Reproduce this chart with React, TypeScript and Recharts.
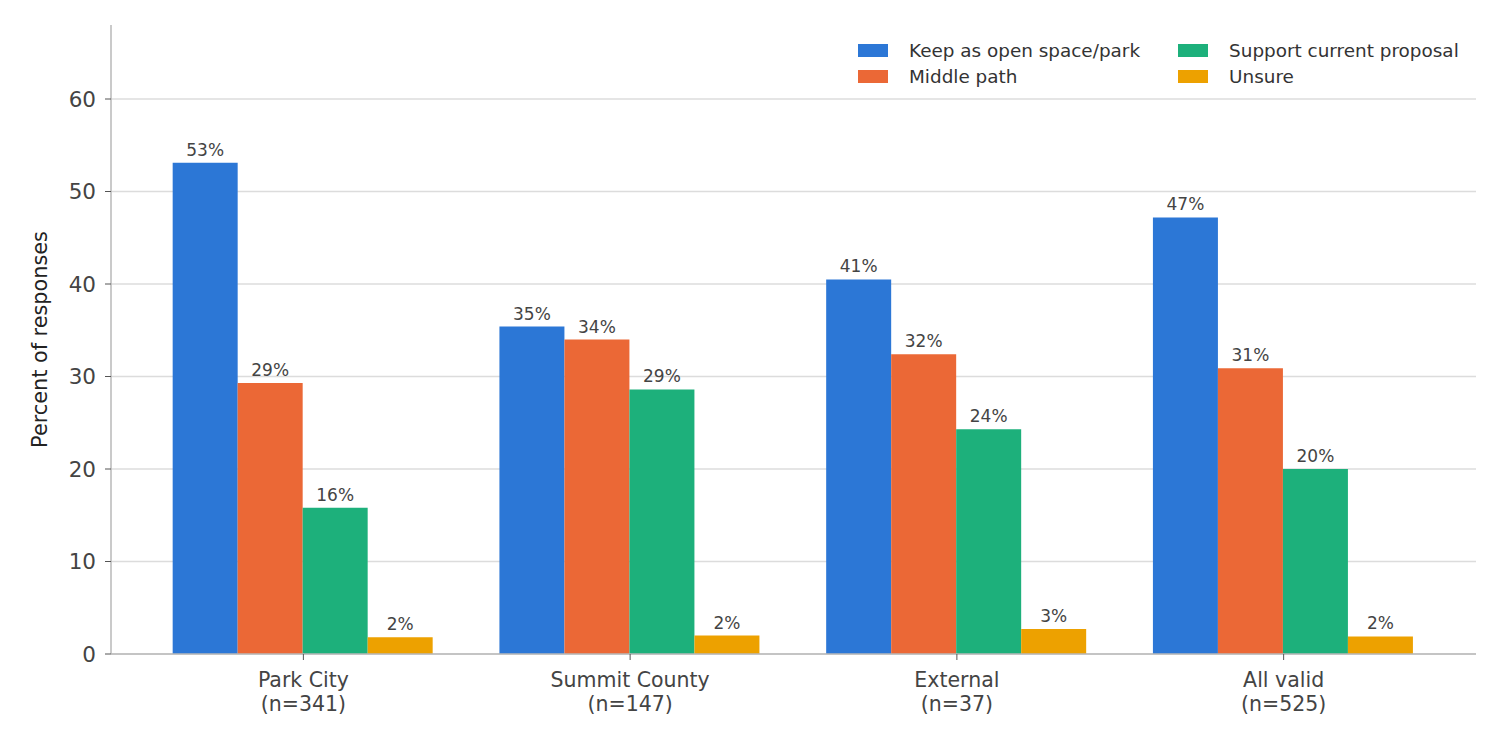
import { Bar, BarChart, CartesianGrid, LabelList, XAxis, YAxis } from "recharts";

const groups = ["Park City", "Summit County", "External", "All valid"];
const counts = [341, 147, 37, 525];
const keepOpen = [53.1, 35.4, 40.5, 47.2];
const middlePath = [29.3, 34.0, 32.4, 30.9];
const supportProposal = [15.8, 28.6, 24.3, 20.0];
const unsure = [1.8, 2.0, 2.7, 1.9];
const yTicks = [0, 10, 20, 30, 40, 50, 60];
const Y_MAX = 68;

const series = [
  { key: "keep", name: "Keep as open space/park", color: "#2C77D6" },
  { key: "middle", name: "Middle path", color: "#EB6836" },
  { key: "support", name: "Support current proposal", color: "#1DB07B" },
  { key: "unsure", name: "Unsure", color: "#EDA100" },
];

const data = groups.map((g, i) => ({
  name: g,
  n: counts[i],
  keep: keepOpen[i],
  middle: middlePath[i],
  support: supportProposal[i],
  unsure: unsure[i],
}));

const FONT = "DejaVu Sans, sans-serif";

function GroupTick({ x, y, payload, index }: any) {
  return (
    <g transform={`translate(${x},${y})`}>
      <text textAnchor="middle" fill="#444" fontSize={20.5} fontFamily={FONT}>
        <tspan x={0} dy={25}>{payload.value}</tspan>
        <tspan x={0} dy={24}>{`(n=${counts[index]})`}</tspan>
      </text>
    </g>
  );
}

// matplotlib-style legend, ncol=2, filled column by column
function LegendBox() {
  const cols = [series.slice(0, 2), series.slice(2, 4)];
  return (
    <div
      style={{
        position: "absolute",
        top: 37,
        left: 858,
        display: "flex",
        gap: 38,
        fontFamily: FONT,
        fontSize: 18.4,
        color: "#333",
      }}
    >
      {cols.map((col, ci) => (
        <div key={ci}>
          {col.map((s) => (
            <div key={s.key} style={{ display: "flex", alignItems: "center", height: 26 }}>
              <span style={{ width: 30, height: 13, background: s.color, marginRight: 21 }} />
              <span>{s.name}</span>
            </div>
          ))}
        </div>
      ))}
    </div>
  );
}

const pct = (v: any) => `${Math.round(Number(v))}%`;

// grid only at the labelled ticks, not along the top edge of the plot
const gridRows = ({ offset }: any) =>
  yTicks.map((t) => offset.top + offset.height * (1 - t / Y_MAX));

export default function App() {
  return (
    <div style={{ position: "fixed", left: 0, top: 0, width: 1508, height: 748, background: "#fff" }}>
      <BarChart
        width={1508}
        height={748}
        data={data}
        margin={{ top: 25, right: 32, bottom: 64, left: 0 }}
        barCategoryGap="10%"
        barGap={0}
      >
        <CartesianGrid
          vertical={false}
          stroke="#dcdcdc"
          strokeWidth={1.3}
          horizontalCoordinatesGenerator={gridRows}
        />
        <XAxis
          dataKey="name"
          padding={{ left: 29, right: 29 }}
          tick={<GroupTick />}
          tickLine={{ stroke: "#555" }}
          tickSize={6}
          axisLine={{ stroke: "#b8b8b8", strokeWidth: 1.5 }}
          interval={0}
        />
        <YAxis
          width={111}
          domain={[0, Y_MAX]}
          ticks={yTicks}
          allowDataOverflow
          tick={{ fill: "#444", fontSize: 21.5, fontFamily: FONT }}
          tickLine={{ stroke: "#555" }}
          tickSize={6}
          tickMargin={9}
          axisLine={{ stroke: "#b8b8b8", strokeWidth: 1.5 }}
          label={{
            value: "Percent of responses",
            angle: -90,
            position: "insideLeft",
            offset: 40,
            style: { fill: "#222", fontSize: 20.8, fontFamily: FONT, textAnchor: "middle" },
          }}
        />
        {series.map((s) => (
          <Bar key={s.key} dataKey={s.key} name={s.name} fill={s.color} isAnimationActive={false}>
            <LabelList
              dataKey={s.key}
              position="top"
              offset={7}
              formatter={pct}
              style={{ fill: "#444", fontSize: 17, fontFamily: FONT }}
            />
          </Bar>
        ))}
      </BarChart>
      <LegendBox />
    </div>
  );
}
